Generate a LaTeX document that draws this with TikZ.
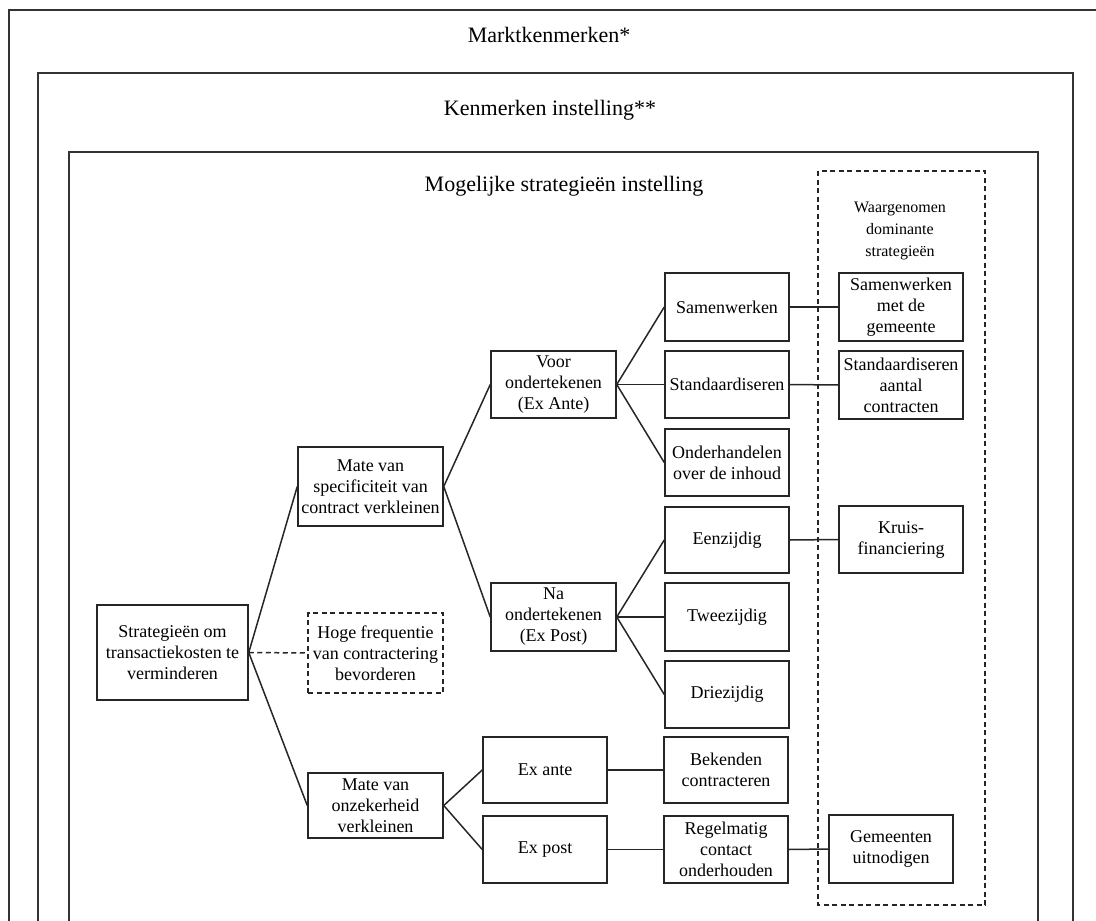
\documentclass[tikz,border=0pt]{standalone}
\usepackage{fontspec}
\setmainfont{Liberation Serif}
\begin{document}
\begin{tikzpicture}[x=1pt,y=-1pt,
  box/.style={draw=black!85, line width=1.5pt, inner sep=0pt, align=center,
    minimum width=124pt, minimum height=67pt, font=\fontsize{18}{21}\selectfont},
  dashbox/.style={box, dash pattern=on 5pt off 3.5pt},
  link/.style={draw=black!85, line width=1.5pt},
  dlink/.style={link, dash pattern=on 5pt off 3.5pt},
  frame/.style={draw=black!80, line width=1.8pt},
  title/.style={font=\fontsize{22}{26}\selectfont, anchor=base, inner sep=0pt}]
\useasboundingbox (0,0) rectangle (1096,921);
\clip (0,0) rectangle (1096,921);

% nested frames (open at the bottom)
\draw[frame] (9,940) -- (9,10) -- (1120,10);
\draw[frame] (38,940) -- (38,73) -- (1073,73) -- (1073,940);
\draw[frame] (69,940) -- (69,152) -- (1038,152) -- (1038,940);
\node[title] (tmarkt) at (549,42) {Marktkenmerken*};
\node[title] (tinst) at (550,115) {Kenmerken instelling**};
\node[title] (tstrat) at (564,191) {Mogelijke strategieën instelling};

% column of observed dominant strategies
\draw[draw=black!85, line width=1.4pt, dash pattern=on 5pt off 3.5pt] (818,171) rectangle (985,905);
\node[align=center, inner sep=0pt, font=\fontsize{16}{22}\selectfont] (tdom) at (900,231)
  {Waargenomen\\dominante\\strategieën};

% tree
\node[box, minimum width=151pt, minimum height=95pt] (root) at (172.5,652.5)
  {Strategieën om\\transactiekosten te\\verminderen};
\node[box, minimum width=145pt, minimum height=79pt] (spec) at (370.5,486.5)
  {Mate van\\specificiteit van\\contract verkleinen};
\node[dashbox, minimum width=135pt, minimum height=80pt] (hoge) at (375.5,653)
  {Hoge frequentie\\van contractering\\bevorderen};
\node[box, minimum width=135pt, minimum height=65pt] (onz) at (375.5,805.5)
  {Mate van\\onzekerheid\\verkleinen};

\node[box, minimum width=125pt] (voor) at (553.5,384.5) {Voor\\ondertekenen\\(Ex Ante)};
\node[box, minimum width=125pt, minimum height=68pt] (na) at (553.5,617) {Na\\ondertekenen\\(Ex Post)};
\node[box, minimum height=66pt] (exante) at (545,770) {Ex ante};
\node[box] (expost) at (545,849.5) {Ex post};

\node[box, minimum height=68pt] (samen) at (727,307) {Samenwerken};
\node[box] (stand) at (727,384.5) {Standaardiseren};
\node[box] (onderh) at (727,462.5) {Onderhandelen\\over de inhoud};
\node[box, minimum height=66pt] (een) at (727,540) {Eenzijdig};
\node[box, minimum height=68pt] (twee) at (727,617) {Tweezijdig};
\node[box] (drie) at (727,694.5) {Driezijdig};
\node[box, minimum height=66pt] (bek) at (726,770) {Bekenden\\contracteren};
\node[box] (regel) at (726,849.5) {Regelmatig\\contact\\onderhouden};

\node[box, minimum height=68pt] (sgem) at (901,307) {Samenwerken\\met de\\gemeente};
\node[box, minimum height=68pt] (saant) at (901,385) {Standaardiseren\\aantal\\contracten};
\node[box] (kruis) at (901,539.5) {Kruis-\\financiering};
\node[box, minimum height=68pt] (gemu) at (891,849) {Gemeenten\\uitnodigen};

% connectors
\draw[link] (root.east) -- (spec.west);
\draw[dlink] (root.east) -- (hoge.west);
\draw[link] (root.east) -- (onz.west);
\draw[link] (spec.east) -- (voor.west);
\draw[link] (spec.east) -- (na.west);
\draw[link] (voor.east) -- (samen.west);
\draw[link] (voor.east) -- (stand.west);
\draw[link] (voor.east) -- (onderh.west);
\draw[link] (na.east) -- (een.west);
\draw[link] (na.east) -- (twee.west);
\draw[link] (na.east) -- (drie.west);
\draw[link] (onz.east) -- (exante.west);
\draw[link] (onz.east) -- (expost.west);
\draw[link] (exante.east) -- (bek.west);
\draw[link] (expost.east) -- (regel.west);
\draw[link] (regel.east) -- (gemu.west);
\draw[link] (samen.east) -- (sgem.west);
\draw[link] (stand.east) -- (saant.west);
\draw[link] (een.east) -- (kruis.west);
\end{tikzpicture}
\end{document}
